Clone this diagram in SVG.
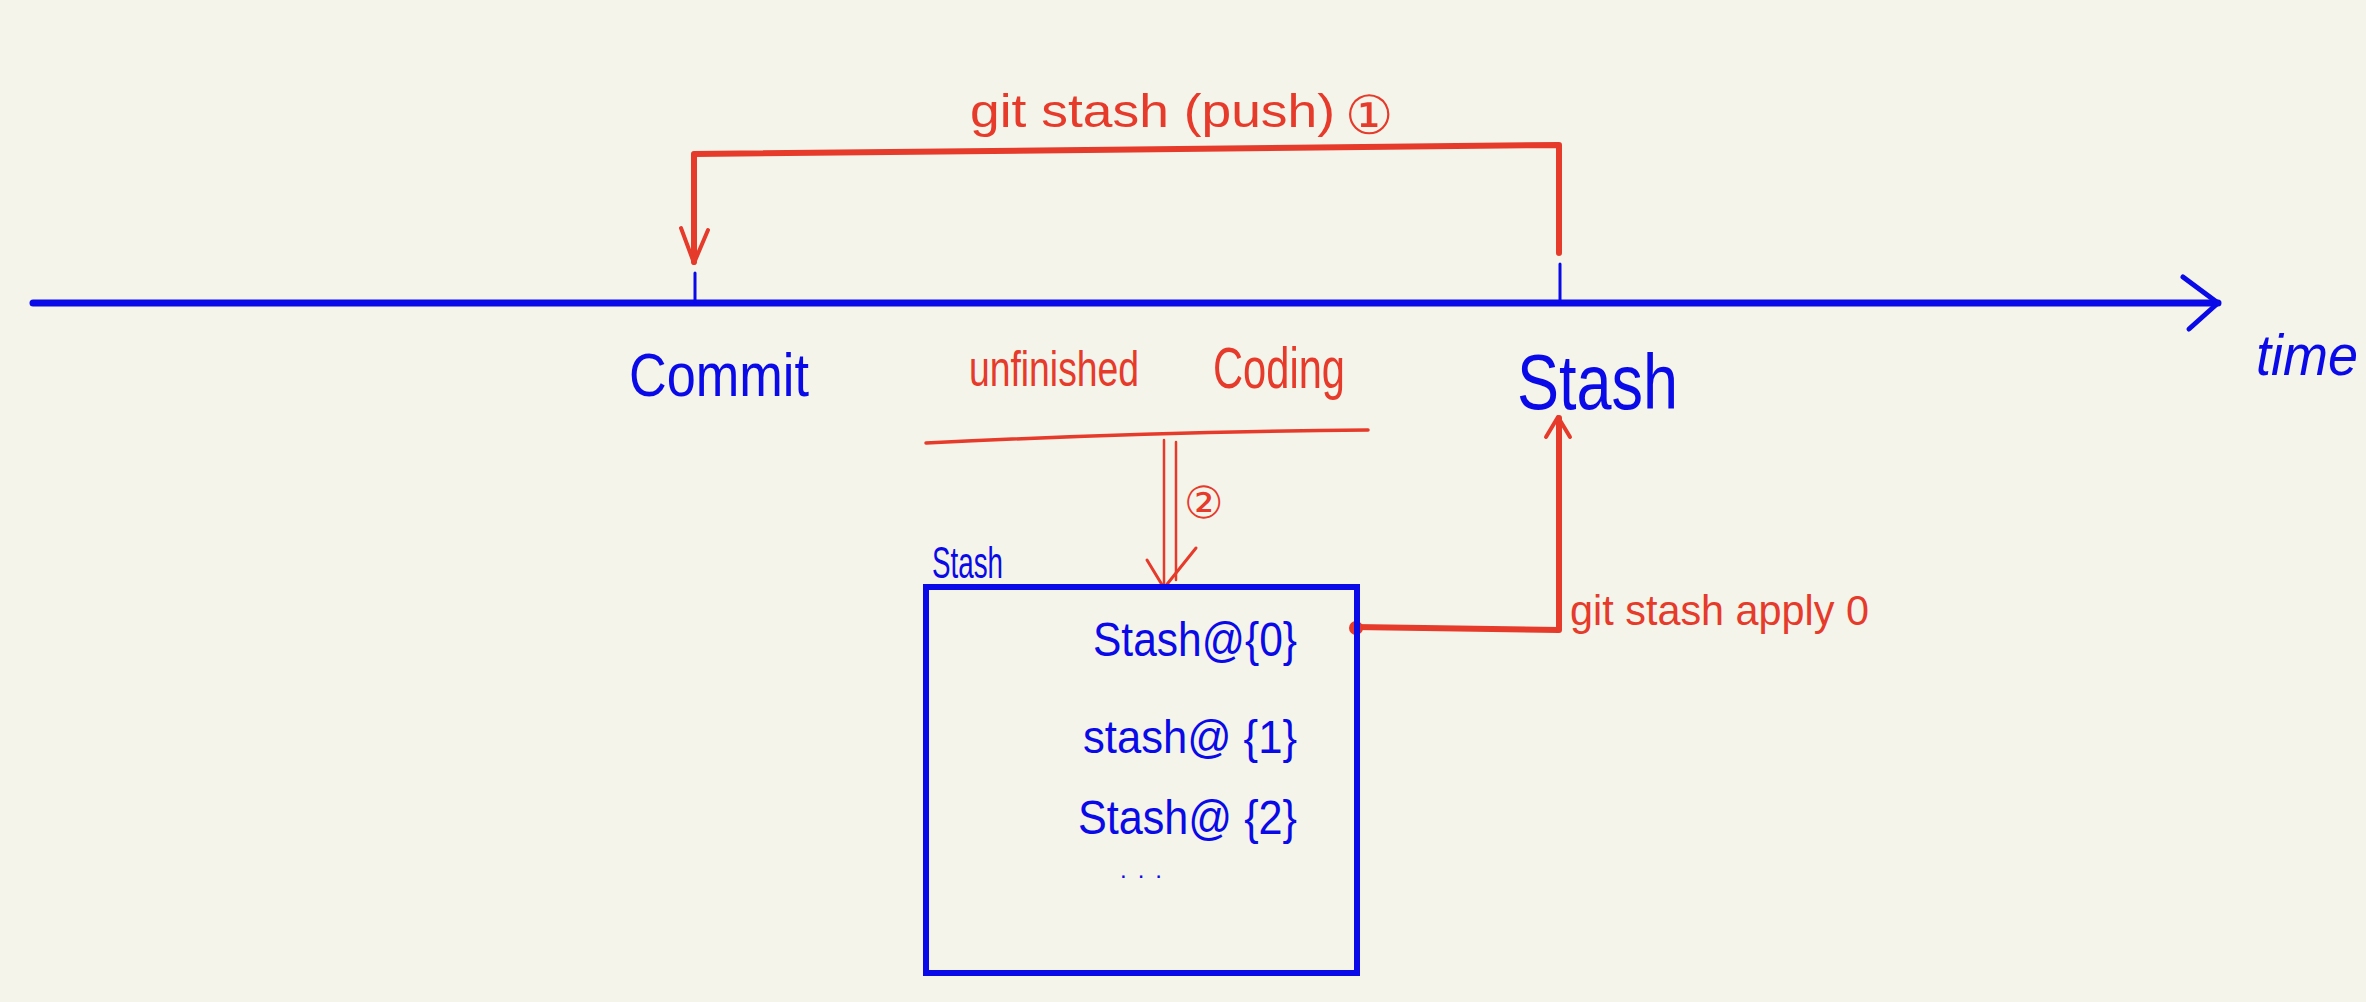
<svg xmlns="http://www.w3.org/2000/svg" width="2366" height="1002" viewBox="0 0 2366 1002">
<style>
.blue{fill:#0a0ae8;font-family:"Liberation Sans","DejaVu Sans",sans-serif}
.red{fill:#e63a2a;font-family:"Liberation Sans","DejaVu Sans",sans-serif}
.rl{stroke:#e63a2a;fill:none;stroke-linecap:round;stroke-linejoin:round}
.bl{stroke:#0a0ae8;fill:none;stroke-linecap:round;stroke-linejoin:round}
</style>
<rect width="2366" height="1002" fill="#f5f4eb"/>
<g id="connectors">
  <path class="bl" d="M33 303 L2218 303" stroke-width="7"/>
  <path class="bl" d="M2183 277 L2218 303 L2189 329" stroke-width="5"/>
  <path class="bl" d="M695 273 L695 301" stroke-width="3"/>
  <path class="bl" d="M1560 264 L1560 301" stroke-width="3"/>
  <path class="rl" d="M1559 253 L1559 145 L694 154 L694 262" stroke-width="6"/>
  <path class="rl" d="M681 228 L694 263 L708 230" stroke-width="4"/>
  <path class="rl" d="M926 443 Q1150 432 1368 430" stroke-width="3.5"/>
  <path class="rl" d="M1164 440 L1164 587 M1176 442 L1176 580" stroke-width="2.5"/>
  <path class="rl" d="M1147 560 L1164 588 L1196 548" stroke-width="3"/>
  <path class="rl" d="M1355 627 L1559 630 L1559 418" stroke-width="6"/>
  <path class="rl" d="M1546 437 L1558 417 L1570 437" stroke-width="4"/>
  <circle cx="1356" cy="628" r="7" fill="#e63a2a"/>
</g>
<g id="label-push">
  <text class="red" x="970" y="127" font-size="46" textLength="365" lengthAdjust="spacingAndGlyphs">git stash (push)</text>
  <text class="red" x="1345" y="134" font-size="54" font-family="DejaVu Sans,sans-serif">①</text>
</g>
<g id="node-commit"><text class="blue" x="629" y="396" font-size="62" textLength="180" lengthAdjust="spacingAndGlyphs">Commit</text></g>
<g id="node-unfinished">
  <text class="red" x="969" y="386" font-size="50" textLength="170" lengthAdjust="spacingAndGlyphs">unfinished</text>
  <text class="red" x="1213" y="388" font-size="58" textLength="132" lengthAdjust="spacingAndGlyphs">Coding</text>
</g>
<g id="label-2"><text class="red" x="1184" y="518" font-size="44" font-family="DejaVu Sans,sans-serif">②</text></g>
<g id="node-stash-point"><text class="blue" x="1517" y="409" font-size="78" textLength="161" lengthAdjust="spacingAndGlyphs">Stash</text></g>
<g id="node-time"><text class="blue" x="2256" y="375" font-size="58" font-style="italic" textLength="102" lengthAdjust="spacingAndGlyphs">time</text></g>
<g id="node-stash-box">
  <text class="blue" x="932" y="578" font-size="44" textLength="71" lengthAdjust="spacingAndGlyphs">Stash</text>
  <rect x="926" y="587" width="431" height="386" fill="none" stroke="#0a0ae8" stroke-width="6"/>
  <text class="blue" x="1093" y="656" font-size="48" textLength="204" lengthAdjust="spacingAndGlyphs">Stash@{0}</text>
  <text class="blue" x="1083" y="753" font-size="46" textLength="214" lengthAdjust="spacingAndGlyphs">stash@ {1}</text>
  <text class="blue" x="1078" y="834" font-size="48" textLength="219" lengthAdjust="spacingAndGlyphs">Stash@ {2}</text>
  <text class="blue" x="1120" y="878" font-size="24" textLength="42" lengthAdjust="spacing">...</text>
</g>
<g id="label-apply"><text class="red" x="1570" y="625" font-size="42" textLength="299" lengthAdjust="spacingAndGlyphs">git stash apply 0</text></g>
</svg>
